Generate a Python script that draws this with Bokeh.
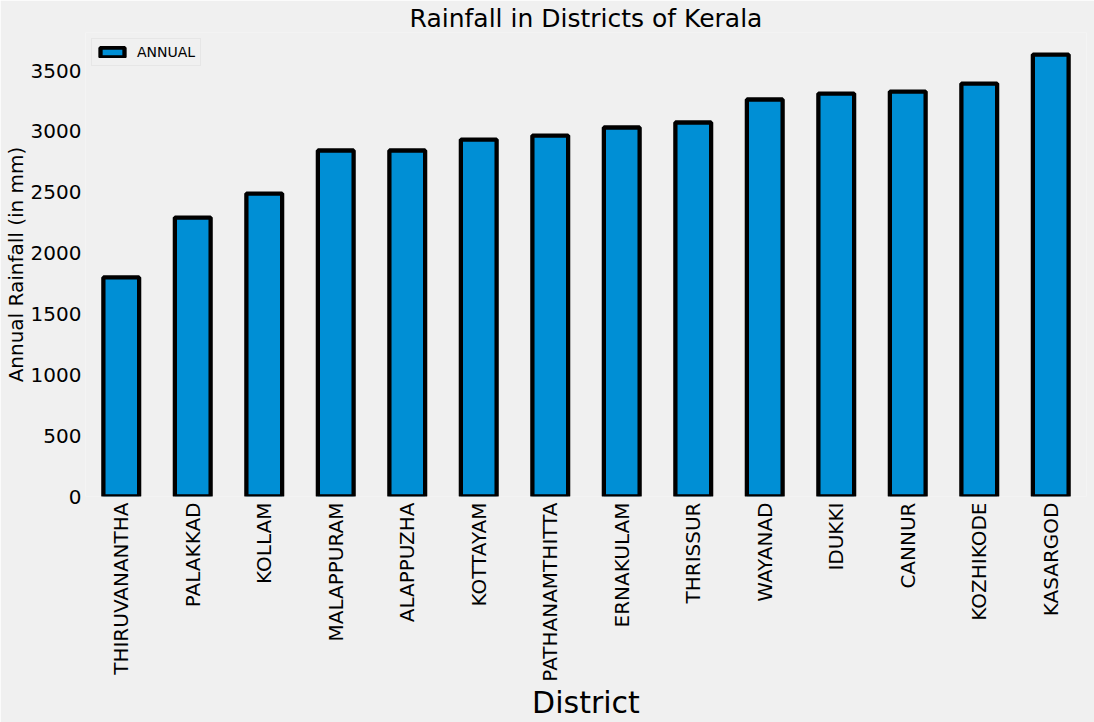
from bokeh.plotting import figure
from bokeh.models import Range1d, FactorRange, ColumnDataSource, NumeralTickFormatter, FixedTicker
from bokeh.embed import file_html
from bokeh.resources import INLINE
import math

districts = ["THIRUVANANTHA", "PALAKKAD", "KOLLAM", "MALAPPURAM", "ALAPPUZHA", "KOTTAYAM",
             "PATHANAMTHITTA", "ERNAKULAM", "THRISSUR", "WAYANAD", "IDUKKI", "CANNUR",
             "KOZHIKODE", "KASARGOD"]
annual = [1800, 2292, 2489, 2843, 2843, 2933, 2966, 3032, 3073, 3262, 3311, 3327, 3393, 3631]
y_ticks = [0, 500, 1000, 1500, 2000, 2500, 3000, 3500]

BG = "#f0f0f0"
FONT = "DejaVu Sans"

src = ColumnDataSource(dict(district=districts, annual=annual))

p = figure(width=1094, height=722, output_backend="svg", toolbar_location=None,
           x_range=FactorRange(*districts), y_range=Range1d(0, max(annual) * 1.05),
           min_border_left=84, min_border_right=8, min_border_top=32, min_border_bottom=226,
           background_fill_color=BG, border_fill_color=BG, outline_line_color=None)

p.vbar(x="district", top="annual", width=0.5, source=src, fill_color="#008fd5",
       line_color="black", line_width=4.3, legend_label="ANNUAL")

p.title.text = "Rainfall in Districts of Kerala"
p.title.align = "center"
p.title.text_font = FONT
p.title.text_font_size = "25px"
p.title.text_font_style = "normal"
p.title.text_color = "black"
p.title.standoff = 0
p.title.offset = 0

p.xgrid.grid_line_color = None
p.ygrid.grid_line_color = None

for ax in (p.xaxis[0], p.yaxis[0]):
    ax.axis_line_color = None
    ax.major_tick_line_color = None
    ax.minor_tick_line_color = None
    ax.major_tick_out = 0
    ax.major_tick_in = 0
    ax.minor_tick_out = 0
    ax.minor_tick_in = 0
    ax.major_label_text_font = FONT
    ax.major_label_text_font_size = "20px"
    ax.major_label_text_color = "black"
    ax.axis_label_text_font = FONT
    ax.axis_label_text_font_style = "normal"
    ax.axis_label_text_color = "black"

p.yaxis[0].ticker = FixedTicker(ticks=y_ticks)
p.yaxis[0].formatter = NumeralTickFormatter(format="0")
p.yaxis[0].axis_label = "Annual Rainfall (in mm)"
p.yaxis[0].axis_label_text_font_size = "20px"
p.yaxis[0].major_label_standoff = 4
p.yaxis[0].axis_label_standoff = 0

p.xaxis[0].axis_label = "District"
p.xaxis[0].axis_label_text_font_size = "30px"
p.xaxis[0].major_label_orientation = math.pi / 2
p.xaxis[0].major_label_standoff = 6
p.xaxis[0].axis_label_standoff = 0

lg = p.legend[0]
lg.location = "top_left"
lg.margin = 6
lg.background_fill_color = BG
lg.background_fill_alpha = 1
lg.border_line_color = "#dcdcdc"
lg.border_line_width = 1
lg.label_text_font = FONT
lg.label_text_font_size = "14px"
lg.label_text_color = "black"
lg.glyph_width = 30
lg.glyph_height = 12
lg.padding = 5
lg.spacing = 0
lg.label_standoff = 10

open("out.html", "w").write(file_html(p, INLINE))
